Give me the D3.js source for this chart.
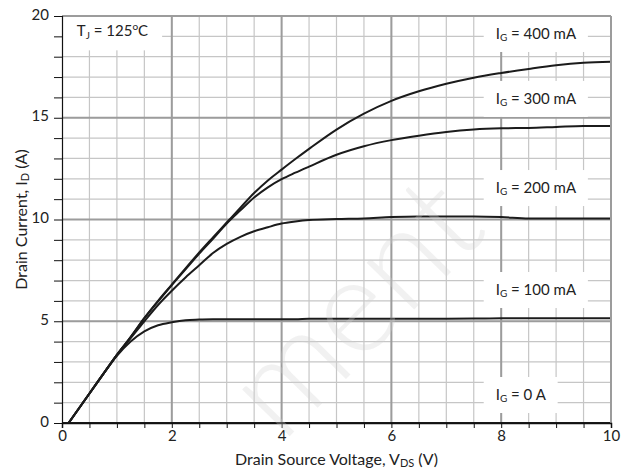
<!DOCTYPE html>
<html>
<head>
<meta charset="utf-8">
<script src="https://cdn.jsdelivr.net/npm/d3@7"></script>
<style>
  body { margin: 0; background: #fff; }
  svg text { font-family: Lato, "Open Sans", sans-serif; fill: #222; }
</style>
</head>
<body>
<svg id="chart"></svg>
<script>
// drain-source voltage samples (V)
var vds = [0, 0.12, 0.5, 0.75, 1.0, 1.25, 1.5, 1.75, 2.0, 2.25, 2.5, 2.75, 3.0, 3.25, 3.5, 3.75,
           4.0, 4.25, 4.5, 5.0, 5.5, 6.0, 6.5, 7.0, 7.5, 8.0, 8.5, 9.0, 9.5, 10.0];

// drain current (A) for each gate current
var id400 = [0, 0, 1.45, 2.4, 3.35, 4.22, 5.15, 6.0, 6.8, 7.6, 8.38, 9.12, 9.85, 10.58, 11.3, 11.92,
             12.45, 12.97, 13.47, 14.42, 15.2, 15.83, 16.3, 16.67, 16.97, 17.2, 17.4, 17.58, 17.7, 17.75];
var id300 = [0, 0, 1.45, 2.4, 3.35, 4.22, 5.15, 5.98, 6.78, 7.55, 8.32, 9.05, 9.8, 10.45, 11.08, 11.58,
             11.98, 12.3, 12.6, 13.18, 13.6, 13.9, 14.12, 14.3, 14.42, 14.48, 14.5, 14.55, 14.6, 14.6];
var id200 = [0, 0, 1.45, 2.4, 3.35, 4.17, 5.0, 5.8, 6.5, 7.15, 7.75, 8.35, 8.8, 9.15, 9.42, 9.62,
             9.8, 9.9, 9.97, 10.02, 10.05, 10.12, 10.15, 10.15, 10.15, 10.12, 10.05, 10.05, 10.05, 10.05];
var id100 = [0, 0, 1.45, 2.4, 3.3, 4.0, 4.5, 4.8, 4.95, 5.05, 5.08, 5.1, 5.1, 5.1, 5.1, 5.1,
             5.1, 5.1, 5.12, 5.12, 5.12, 5.12, 5.12, 5.12, 5.13, 5.15, 5.15, 5.15, 5.15, 5.15];
var id0   = [0, 0, 0, 0, 0, 0, 0, 0, 0, 0, 0, 0, 0, 0, 0, 0,
             0, 0, 0, 0, 0, 0, 0, 0, 0, 0, 0, 0, 0, 0];

var seriesNames = ["400 mA", "300 mA", "200 mA", "100 mA", "0 A"];
var seriesValues = [id400, id300, id200, id100, id0];
var labelLevels = [18.87, 15.68, 11.3, 6.29, 1.13];   // baseline of the IG labels (A)

var xTicks = [0, 2, 4, 6, 8, 10];
var yTicks = [0, 5, 10, 15, 20];

var W = 636, H = 471;
var margin = {top: 16, right: 25, bottom: 48, left: 62};
var width = W - margin.left - margin.right,
    height = H - margin.top - margin.bottom;

var svg = d3.select("#chart").attr("width", W).attr("height", H);
var g = svg.append("g").attr("transform", "translate(" + margin.left + "," + margin.top + ")");

var x = d3.scaleLinear().domain([0, 10]).range([0, width]);
var y = d3.scaleLinear().domain([0, 20]).range([height, 0]);

// minor grid
g.append("g").selectAll("line").data(d3.range(0.5, 10, 0.5)).enter().append("line")
  .attr("x1", function(d) { return x(d); }).attr("x2", function(d) { return x(d); })
  .attr("y1", 0).attr("y2", height)
  .attr("stroke", "#c6c6c6").attr("stroke-width", 1.2);
g.append("g").selectAll("line").data(d3.range(1, 20, 1)).enter().append("line")
  .attr("y1", function(d) { return y(d); }).attr("y2", function(d) { return y(d); })
  .attr("x1", 0).attr("x2", width)
  .attr("stroke", "#c6c6c6").attr("stroke-width", 1.2);

// major grid
g.append("g").selectAll("line").data([2, 4, 6, 8, 10]).enter().append("line")
  .attr("x1", function(d) { return x(d); }).attr("x2", function(d) { return x(d); })
  .attr("y1", 0).attr("y2", height)
  .attr("stroke", "#9c9c9c").attr("stroke-width", 2);
g.append("g").selectAll("line").data([5, 10, 15, 20]).enter().append("line")
  .attr("y1", function(d) { return y(d); }).attr("y2", function(d) { return y(d); })
  .attr("x1", 0).attr("x2", width)
  .attr("stroke", "#9c9c9c").attr("stroke-width", 2);

// label boxes (white, hide the grid)
var labels = g.append("g");
function boxedLabel(px, py, build, padL, padR) {
  var t = labels.append("text").attr("x", px).attr("y", py).style("font-size", "15px");
  build(t);
  var b = t.node().getBBox();
  labels.insert("rect", "text")
    .attr("x", b.x - padL).attr("y", Math.max(0, b.y - 8))
    .attr("width", b.width + padL + padR)
    .attr("height", b.y + b.height + 9 - Math.max(0, b.y - 8))
    .attr("fill", "#fff");
}

boxedLabel(x(0.27), y(19.0), function(t) {
  t.append("tspan").text("T");
  t.append("tspan").text("J").style("font-size", "10px").attr("dy", 3);
  t.append("tspan").text(" = 125").attr("dy", -3);
  t.append("tspan").text("o").style("font-size", "10px").attr("dy", -6);
  t.append("tspan").text("C").attr("dy", 6);
}, 20, 14);

seriesNames.forEach(function(name, i) {
  boxedLabel(x(7.9), y(labelLevels[i]), function(t) {
    t.append("tspan").text("I");
    t.append("tspan").text("G").style("font-size", "10px").attr("dy", 2);
    t.append("tspan").text(" = " + name).attr("dy", -2);
  }, 12, 11);
});

// curves (the conducting ones start at the knee, the 0 A one runs the full axis)
var line = d3.line()
  .x(function(d) { return x(d[0]); })
  .y(function(d) { return y(d[1]); })
  .curve(d3.curveMonotoneX);

seriesValues.forEach(function(vals, k) {
  var pts = vds.map(function(v, i) { return [v, vals[i]]; });
  if (k < seriesValues.length - 1) pts = pts.slice(1);
  g.append("path")
    .datum(pts)
    .attr("fill", "none")
    .attr("stroke", "#1b1b1b")
    .attr("stroke-width", 2)
    .attr("d", line);
});

// frame: top and right in gray
g.append("line").attr("x1", 0).attr("x2", width).attr("y1", 0).attr("y2", 0)
  .attr("stroke", "#9c9c9c").attr("stroke-width", 2);
g.append("line").attr("x1", width).attr("x2", width).attr("y1", 0).attr("y2", height)
  .attr("stroke", "#9c9c9c").attr("stroke-width", 2);

// axes
var xAxis = g.append("g").attr("transform", "translate(0," + height + ")")
  .call(d3.axisBottom(x).tickValues(d3.range(0, 10.01, 0.5)).tickSize(5)
    .tickFormat(function(d) { return xTicks.indexOf(d) >= 0 ? d : ""; }));
xAxis.select(".domain").attr("stroke", "#111").attr("stroke-width", 1.5);
xAxis.selectAll(".tick line").attr("stroke", "#111");
xAxis.selectAll("text").style("font-size", "15px").attr("dy", "0.95em").attr("y", 4);

var yAxis = g.append("g")
  .call(d3.axisLeft(y).tickValues(d3.range(0, 20.01, 1)).tickSize(8)
    .tickFormat(function(d) { return yTicks.indexOf(d) >= 0 ? d : ""; }));
yAxis.select(".domain").attr("stroke", "#111").attr("stroke-width", 1.2);
yAxis.selectAll(".tick line").attr("stroke", "#111");
yAxis.selectAll("text").style("font-size", "15px").attr("x", -13).attr("dy", "0.2em");

// axis titles
var xt = svg.append("text")
  .attr("x", margin.left + width / 2).attr("y", 465)
  .attr("text-anchor", "middle").style("font-size", "16px");
xt.append("tspan").text("Drain Source Voltage, V");
xt.append("tspan").text("DS").style("font-size", "11px").attr("dy", 2);
xt.append("tspan").text(" (V)").attr("dy", -2);

var yt = svg.append("text")
  .attr("transform", "translate(27," + (margin.top + height / 2) + ") rotate(-90)")
  .attr("text-anchor", "middle").style("font-size", "16px");
yt.append("tspan").text("Drain Current, I");
yt.append("tspan").text("D").style("font-size", "11px").attr("dy", 2);
yt.append("tspan").text(" (A)").attr("dy", -2);

// faint watermark
svg.append("text")
  .attr("transform", "translate(282,444) rotate(-45.5)")
  .style("font-size", "134px")
  .style("font-weight", 300)
  .style("fill", "#d0d0d0")
  .style("fill-opacity", 0.3)
  .text("ment");
</script>
</body>
</html>
